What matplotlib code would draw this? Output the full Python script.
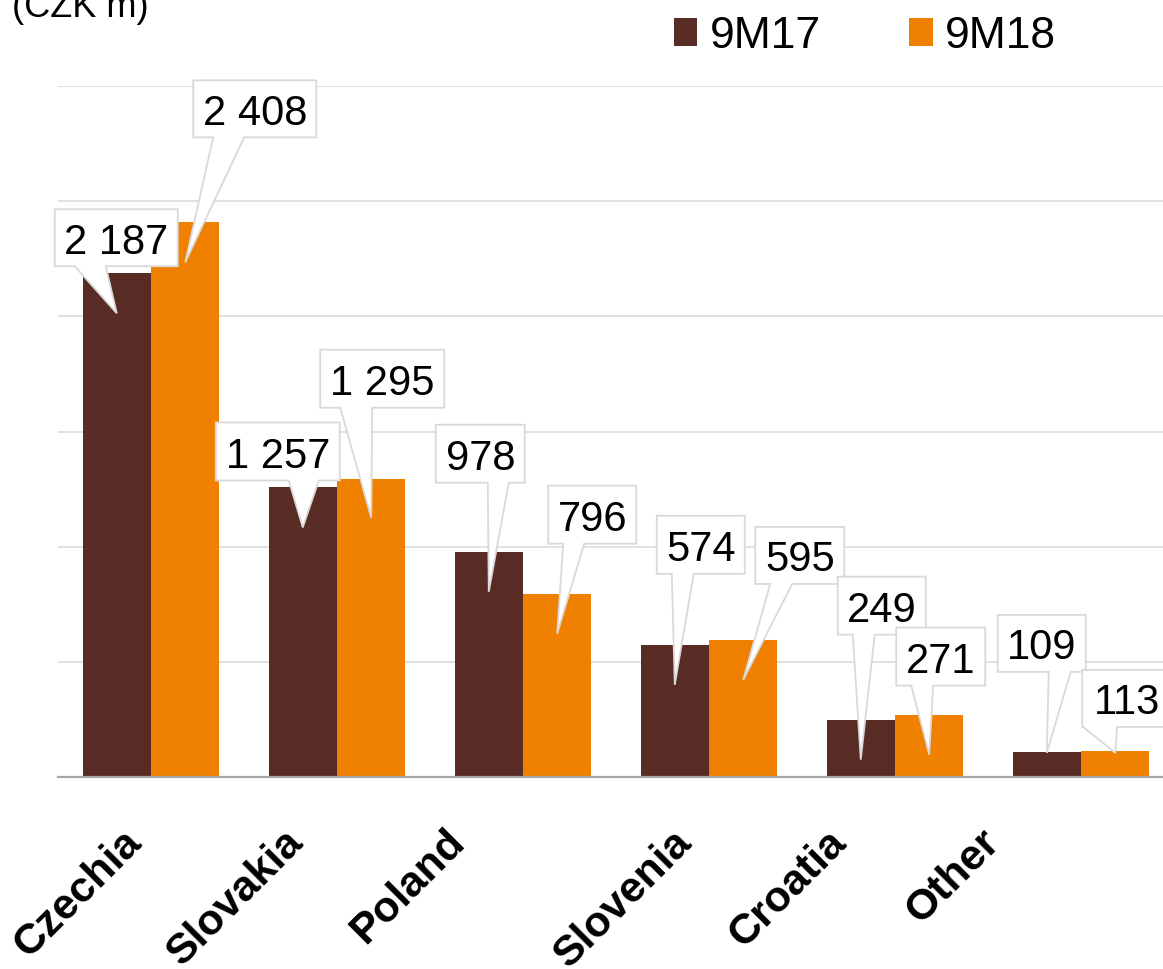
import matplotlib
matplotlib.use('Agg')
import matplotlib.pyplot as plt
import numpy as np
from matplotlib.patches import Polygon
from matplotlib.transforms import Affine2D, ScaledTranslation

plt.rcParams['font.family'] = ['Liberation Sans', 'DejaVu Sans']

#---------------------------------------------------------
# data
categories  = ['Czechia', 'Slovakia', 'Poland', 'Slovenia', 'Croatia', 'Other']
series      = ['9M17', '9M18']
values_9m17 = [2187, 1257, 978, 574, 249, 109]
values_9m18 = [2408, 1295, 796, 595, 271, 113]
unit_label  = '(CZK m)'

#---------------------------------------------------------
# styles / layout
col_17 = '#582c24'
col_18 = '#f08100'
grid_col = '#d9d9d9'
base_col = '#a6a6a6'
width = 0.368

# callout boxes, pixels relative to the top-centre of the bar (y grows downwards):
# box left, box right, box top, box bottom, wedge left, wedge right, tip depth
callouts_17 = [(-62, 61, -64, -7, -42, -11, 40),
               (-87, 37, -65, -7, -14, 16, 40),
               (-53, 36, -127, -69, -1, 20, 40),
               (-18, 70, -129, -71, -3, 19, 40),
               (-23, 65, -143, -85, -8, 14, 40),
               (-49, 39, -137, -80, 2, 24, 1)]
callouts_18 = [(8, 131, -142, -85, 28, 59, 40),
               (-51, 73, -129, -71, -31, 1, 39),
               (-9, 79, -108, -50, 6, 27, 40),
               (12, 101, -113, -56, 27, 49, 40),
               (-33, 56, -87, -29, -18, 4, 40),
               (-33, 56, -81, -24, -32, 2, 2)]

# shift of each rotated category label (px), right end relative to group centre
label_dx = [-8, -32, -57, -16, -47, -80]
label_dy = 67

#---------------------------------------------------------
fig = plt.figure(figsize=(11.63, 9.69), dpi=100)
ax = fig.add_axes([58/1163, 192/969, 1105/1163, 691/969])

x = np.arange(len(categories))
bars17 = ax.bar(x - width/2, values_9m17, width, color=col_17, label=series[0], zorder=2)
bars18 = ax.bar(x + width/2, values_9m18, width, color=col_18, label=series[1], zorder=2)

ax.set_xlim(-0.5, 5.441)
ax.set_ylim(0, 3000)
ax.set_yticks(np.arange(0, 3001, 500))
ax.yaxis.grid(True, color=grid_col, linewidth=1.1)
ax.set_axisbelow(True)
ax.tick_params(left=False, labelleft=False, bottom=False, labelbottom=False)
for s in ['top', 'right', 'left']:
	ax.spines[s].set_visible(False)
ax.spines['bottom'].set_color(base_col)
ax.spines['bottom'].set_linewidth(1.6)
ax.spines['bottom'].set_zorder(3)

def fmt(v):
	return '{:,}'.format(v).replace(',', ' ')

def callout(xc, v, geo):
	l, r, t, b, w1, w2, tip = geo
	trans = Affine2D().scale(1, -1) + ScaledTranslation(xc, v, ax.transData)
	pts = [(l, t), (r, t), (r, b), (w2, b), (0, tip), (w1, b), (l, b)]
	poly = Polygon(pts, closed=True, transform=trans, facecolor='white',
	               edgecolor=grid_col, linewidth=1.3, zorder=4, clip_on=False)
	ax.add_patch(poly)
	ax.text((l + r)/2, b - 12.5, fmt(v), transform=trans, ha='center', va='baseline',
	        fontsize=30, color='black', zorder=5, clip_on=False)

for i in range(len(categories)):
	callout(x[i] - width/2, values_9m17[i], callouts_17[i])
	callout(x[i] + width/2, values_9m18[i], callouts_18[i])

for i, name in enumerate(categories):
	tr = ax.transData + ScaledTranslation(label_dx[i]/100, -label_dy/100, fig.dpi_scale_trans)
	ax.text(x[i], 0, name, transform=tr, rotation=45, rotation_mode='anchor',
	        ha='right', va='baseline', fontsize=31, fontweight='bold', clip_on=False)

fig.legend(handles=[bars17, bars18], labels=series, loc='upper right',
           bbox_to_anchor=(1056/1163, 1 - 16/969), ncol=2, frameon=False, fontsize=32,
           handlelength=0.52, handleheight=0.58, handletextpad=0.28, columnspacing=2.0,
           borderaxespad=0, borderpad=0)

fig.text(12/1163, 1 - 17/969, unit_label, ha='left', va='baseline', fontsize=26)

fig.savefig('out.png', dpi=100)
